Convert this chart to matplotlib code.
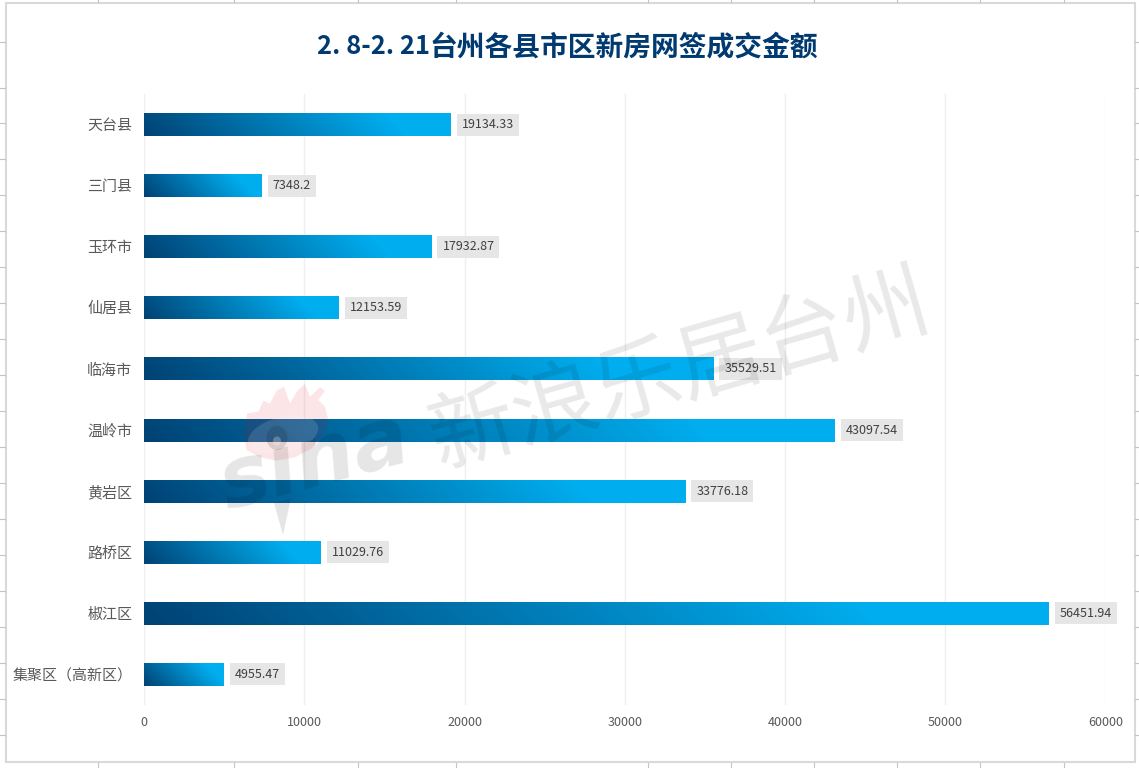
# plot.py
# bar chart of new-home contract value by county, Taizhou, with the sina watermark
import numpy as np
import matplotlib
matplotlib.use('Agg')
import matplotlib.pyplot as plt
from matplotlib.colors import LinearSegmentedColormap
from matplotlib.patches import Rectangle, PathPatch, Ellipse, Polygon
from matplotlib.path import Path
from matplotlib.transforms import IdentityTransform

CJK = ['Noto Sans CJK SC', 'DejaVu Sans']
plt.rcParams['font.family'] = CJK

TITLE_DATE = '2. 8-2. 21'
TITLE_TEXT = '台州各县市区新房网签成交金额'
WATERMARK = '新浪乐居台州'

# bottom to top, as the bars are stacked on the chart
districts = ['集聚区（高新区）', '椒江区', '路桥区', '黄岩区', '温岭市',
             '临海市', '仙居县', '玉环市', '三门县', '天台县']
amounts = [4955.47, 56451.94, 11029.76, 33776.18, 43097.54,
           35529.51, 12153.59, 17932.87, 7348.2, 19134.33]
amount_labels = ['4955.47', '56451.94', '11029.76', '33776.18', '43097.54',
                 '35529.51', '12153.59', '17932.87', '7348.2', '19134.33']
x_ticks = [0, 10000, 20000, 30000, 40000, 50000, 60000]

# little cell-grid marks of the spreadsheet behind the chart
sheet_cols = [98, 233.5, 358, 455.5, 648, 731, 814, 897, 980, 1063.5]
sheet_rows = [41.5, 87.5] + list(range(123, 736, 36))

W, H = 1139, 768
fig = plt.figure(figsize=(W / 100, H / 100), dpi=100, facecolor='white')
renderer = fig.canvas.get_renderer()

# chart frame and the sheet ticks around it
back = fig.add_axes([0, 0, 1, 1], zorder=0)
back.set_xlim(0, W)
back.set_ylim(H, 0)
back.axis('off')
back.add_patch(Rectangle((5.5, 2.5), 1129, 759.5, fc='white', ec='#d9d9d9', lw=1.5))
for c in sheet_cols:
    back.plot([c, c], [0, 2], color='#c4c4c4', lw=0.8)
    back.plot([c, c], [763, 768], color='#c4c4c4', lw=0.8)
for r in sheet_rows:
    back.plot([0, 5], [r, r], color='#c4c4c4', lw=0.8)
    back.plot([1135, 1139], [r, r], color='#c4c4c4', lw=0.8)

ax = fig.add_axes([144 / W, 1 - 705 / H, 961.5 / W, 611 / H], zorder=1)
ax.patch.set_alpha(0)
y_pos = np.arange(len(districts))
bars = ax.barh(y_pos, amounts, height=0.375, color='none')

cmap = LinearSegmentedColormap.from_list('bar', ['#004274', '#00aeef'])
for bar in bars:
    x0, y0, w, h = bar.get_x(), bar.get_y(), bar.get_width(), bar.get_height()
    w_px = int(round(w * 961.5 / 60000))
    h_px = 23
    gx, gy = np.meshgrid(np.arange(w_px), np.arange(h_px))
    t = np.clip((gx + gy) / (w_px + h_px) / 0.8, 0, 1)
    ax.imshow(t, cmap=cmap, vmin=0, vmax=1, origin='lower', aspect='auto',
              extent=[x0, x0 + w, y0, y0 + h], zorder=2, interpolation='bilinear')

ax.set_xlim(0, 60000)
ax.set_ylim(-0.5, len(districts) - 0.5)
ax.set_xticks(x_ticks)
ax.set_yticks(y_pos)
ax.set_yticklabels(districts, fontsize=10.8, color='#595959')
ax.tick_params(axis='y', length=0, pad=8.5)
ax.tick_params(axis='x', length=0, pad=8, labelsize=9, labelcolor='#595959')
ax.xaxis.grid(True, color='#efefef', lw=1)
ax.yaxis.grid(False)
ax.set_axisbelow(True)
for s in ax.spines.values():
    s.set_visible(False)

# value labels on grey boxes sized from the text itself
for yy, val, lab in zip(y_pos, amounts, amount_labels):
    txt = ax.annotate(lab, (val, yy), xytext=(8, 0), textcoords='offset points',
                      va='center', ha='left', fontsize=9, color='#404040', zorder=5)
    bb = txt.get_window_extent(renderer)
    cy = ax.transData.transform((val, yy))[1]
    ax.add_patch(Rectangle((bb.x0 - 5, cy - 11), bb.width + 10, 22, fc='#e6e6e6', ec='none',
                           transform=IdentityTransform(), zorder=4, clip_on=False))

fig.text(430 / W, 1 - 47 / H, TITLE_DATE, ha='right', va='center', fontsize=18.4,
         fontweight='bold', color='#003a70')
fig.text(430 / W, 1 - 47 / H, TITLE_TEXT, ha='left', va='center', fontsize=20,
         fontweight='bold', color='#003a70')

# watermark goes over everything
mark = fig.add_axes([0, 0, 1, 1], zorder=2)
mark.set_xlim(0, W)
mark.set_ylim(H, 0)
mark.axis('off')
mark.patch.set_alpha(0)
mark.text(680, 372, WATERMARK, rotation=16, rotation_mode='anchor', ha='center', va='center',
          fontsize=62, fontweight='light', color='black', alpha=0.09)
mark.text(314, 462, 'sına', rotation=15, rotation_mode='anchor', ha='center', va='center',
          fontsize=60, fontweight='bold', style='oblique', family='DejaVu Sans',
          color='black', alpha=0.1)
mark.add_patch(Polygon([(274, 503), (291, 498), (283, 535)], fc='black', ec='none', alpha=0.1))

# sina eye: flame outline with the eye cut out of it
flame = np.array([(100, 190), (110, 240), (150, 262), (200, 272), (255, 262), (305, 235),
                  (345, 190), (355, 150), (345, 110), (325, 90), (345, 62), (330, 52),
                  (300, 80), (285, 42), (262, 62), (240, 100), (222, 50), (200, 62),
                  (180, 100), (160, 92), (145, 125), (112, 130)], dtype=float) / 3
flame += (210, 370)
ang = np.linspace(2 * np.pi, 0, 40)
rot = np.deg2rad(-14)
ex, ey = 36 * np.cos(ang), 18 * np.sin(ang)
eye = np.column_stack([ex * np.cos(rot) - ey * np.sin(rot) + 283,
                       ex * np.sin(rot) + ey * np.cos(rot) + 435])
verts = np.vstack([flame, flame[:1], eye, eye[:1]])
codes = ([Path.MOVETO] + [Path.LINETO] * (len(flame) - 1) + [Path.CLOSEPOLY] +
         [Path.MOVETO] + [Path.LINETO] * (len(eye) - 1) + [Path.CLOSEPOLY])
mark.add_patch(PathPatch(Path(verts, codes), fc='#e60012', ec='none', alpha=0.1))
mark.add_patch(Ellipse((283, 435), 72, 36, angle=-14, fc='white', ec='none', alpha=0.12))
mark.add_patch(Ellipse((277, 438), 21, 24, fc='black', ec='none', alpha=0.12))
mark.add_patch(Ellipse((277, 441), 8, 9, fc='white', ec='none', alpha=0.25))

fig.savefig('out.png', dpi=100)
